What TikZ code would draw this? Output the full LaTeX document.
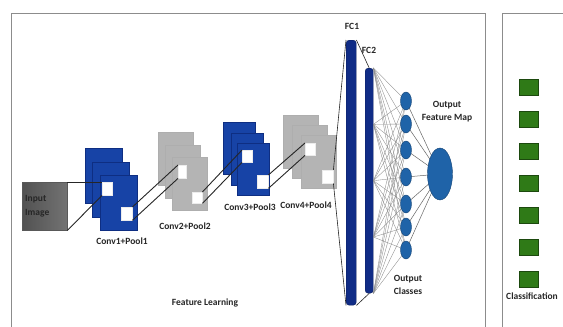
\documentclass[tikz,border=0pt]{standalone}
\usepackage{fontspec}
\setmainfont{Carlito}
\usetikzlibrary{shapes.geometric,calc}
\definecolor{convblue}{HTML}{1743A6}
\definecolor{convblueD}{HTML}{0E2E82}
\definecolor{convgray}{HTML}{B4B4B4}
\definecolor{convgrayD}{HTML}{9A9A9A}
\definecolor{fcblue}{HTML}{102C86}
\definecolor{outblue}{HTML}{1F63A8}
\definecolor{clsgreen}{HTML}{2F7A17}
\tikzset{
  lbl/.style={font=\bfseries\fontsize{9.5}{11}\selectfont, text=black!85, align=center, inner sep=0},
  bsq/.style={draw=convblueD, fill=convblue, line width=0.6, minimum width=37, minimum height=55, inner sep=0, anchor=north west},
  gsq/.style={draw=convgrayD!80, fill=convgray, line width=0.6, minimum width=35, minimum height=53, inner sep=0, anchor=north west},
  wsq/.style={draw=white!85!gray, fill=white, line width=0.4, inner sep=0, anchor=north west},
  link/.style={draw=black!85, line width=0.9},
  fan/.style={draw=black!45, line width=0.35},
  fcbar/.style={draw=fcblue!70!black, fill=fcblue, rounded corners=3, inner sep=0, anchor=north west},
  onode/.style={ellipse, draw=outblue!70!black, fill=outblue, line width=0.4, minimum width=11, minimum height=18, inner sep=0},
  bignode/.style={ellipse, draw=outblue!70!black, fill=outblue, minimum width=25, minimum height=52, inner sep=0},
  clsq/.style={draw=clsgreen!60!black, fill=clsgreen, line width=0.5, minimum width=19, minimum height=16, inner sep=0},
  frame/.style={draw=black!45, line width=0.8}
}
\begin{document}
\begin{tikzpicture}[x=1pt,y=-1pt]
\useasboundingbox (0,0) rectangle (563,327);
\fill[white] (0,0) rectangle (563,327);
% frames
\draw[frame] (11,327) -- (11,13) -- (485,13) -- (485,327);
\draw[frame] (502,327) -- (502,13) -- (563,13);

% input image
\node[anchor=north west, minimum width=45, minimum height=48, inner sep=0, draw=black!65, left color=black!68, right color=black!55] (inp) at (22,182) {};
\node[lbl, text=black!85, align=left, anchor=west] (inptxt) at (25,206) {Input\\[3pt]Image};

% conv1
\node[bsq] (c1a) at (85,148) {};
\node[bsq] (c1b) at (92,162) {};
\node[bsq] (c1c) at (100,175) {};
\node[wsq, minimum width=10, minimum height=13] (w1a) at (102,182) {};
\node[wsq, minimum width=11, minimum height=13] (w1b) at (121,207) {};
% conv2
\node[gsq] (c2a) at (158,132) {};
\node[gsq] (c2b) at (165,145) {};
\node[gsq] (c2c) at (172,157) {};
\node[wsq, minimum width=8, minimum height=13] (w2a) at (178,165) {};
\node[wsq, minimum width=10, minimum height=11] (w2b) at (192,192) {};
% conv3
\node[bsq, minimum width=32, minimum height=52] (c3a) at (223,122) {};
\node[bsq, minimum width=32, minimum height=52] (c3b) at (231,133) {};
\node[bsq, minimum width=32, minimum height=52] (c3c) at (237,143) {};
\node[wsq, minimum width=10, minimum height=12] (w3a) at (242,150) {};
\node[wsq, minimum width=11, minimum height=13] (w3b) at (257,175) {};
% conv4
\node[gsq] (c4a) at (283,115) {};
\node[gsq] (c4b) at (292,125) {};
\node[gsq] (c4c) at (301,135) {};
\node[wsq, minimum width=10, minimum height=12] (w4a) at (305,143) {};
\node[wsq, minimum width=11, minimum height=13] (w4b) at (322,170) {};

% FC bars
\node[fcbar, minimum width=10, minimum height=265] (fc1) at (346,40) {};
\node[fcbar, minimum width=8, minimum height=225] (fc2) at (365,68) {};

% links
\draw[link] (inp.north east) -- (w1a.north west);
\draw[link] (inp.south east) -- (w1a.south west);
\draw[link] (w1b.north east) -- (w2a.north west);
\draw[link] (w1b.south east) -- (w2a.south west);
\draw[link] (w2b.north east) -- (w3a.north west);
\draw[link] (w2b.south east) -- (w3a.south west);
\draw[link] (w3b.north east) -- (w4a.north west);
\draw[link] (w3b.south east) -- (w4a.south west);
\draw[link, line width=0.6] (w4b.north east) -- (fc1.north west);
\draw[link, line width=0.6] (w4b.south east) -- (fc1.south west);
\draw[link, line width=0.6] (fc1.north east) -- (fc2.north);
\draw[link, line width=0.6] (fc1.south east) -- (fc2.south);

% output nodes (coordinates for the fan lines)
\foreach \i/\y in {1/101,2/124,3/150,4/177,5/204,6/227,7/250}{
  \coordinate (p\i) at (406,\y);
}
\coordinate (pbig) at (440,174);
\foreach \i in {1,...,7}{
  \foreach \t in {0,0.25,0.5,0.75,1}{
    \draw[fan] ($(fc2.north east)!\t!(fc2.south east)$) -- (p\i);
  }
  \draw[fan, draw=black!60, line width=0.5] (p\i) -- (pbig);
}
\foreach \i in {1,...,7}{
  \node[onode] (o\i) at (p\i) {};
}
\node[bignode] (big) at (pbig) {};

% classification squares
\foreach \i/\y in {1/87,2/119,3/151,4/183,5/215,6/247,7/279}{
  \node[clsq] (g\i) at (529,\y) {};
}

% labels
\node[lbl] (l1) at (122,241) {Conv1+Pool1};
\node[lbl] (l2) at (185,226) {Conv2+Pool2};
\node[lbl] (l3) at (250,207) {Conv3+Pool3};
\node[lbl] (l4) at (306,205) {Conv4+Pool4};
\node[lbl] (lfc1) at (352,26) {FC1};
\node[lbl] (lfc2) at (369,50) {FC2};
\node[lbl] (lofm) at (447,112) {Output\\[2pt]Feature Map};
\node[lbl] (loc) at (408,285) {Output\\[2pt]Classes};
\node[lbl] (lfl) at (205,303) {Feature Learning};
\node[lbl] (lcl) at (532,296) {Classification};
\end{tikzpicture}
\end{document}
